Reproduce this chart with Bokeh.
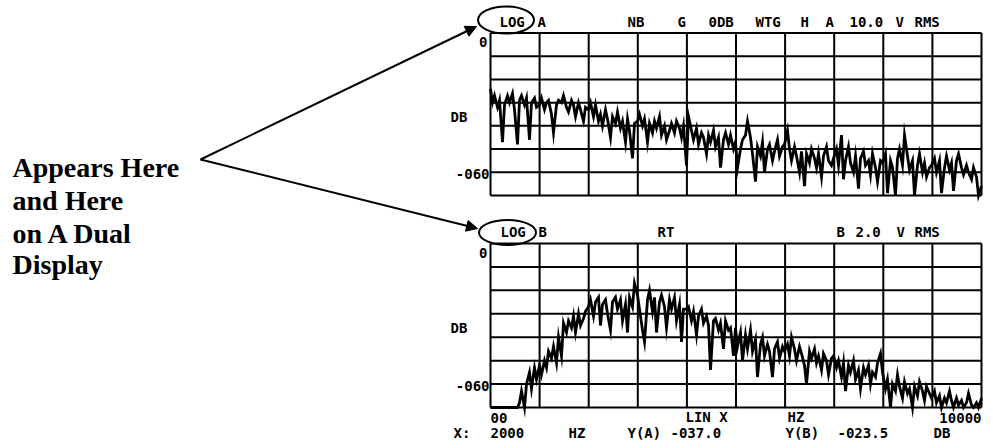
import numpy as np
from bokeh.plotting import figure
from bokeh.models import Range1d, Arrow, NormalHead
from bokeh.core.properties import value
from bokeh.embed import file_html
from bokeh.resources import INLINE

# ---------------- data ----------------
freq_ticks = [0, 1000, 2000, 3000, 4000, 5000, 6000, 7000, 8000, 9000, 10000]
db_ticks = [0, -10, -20, -30, -40, -50, -60, -70]
bin_hz = 50
n_bins = 201
freqs = np.arange(n_bins) * bin_hz

trace_a = [
    -24, -30, -27, -32, -29, -47, -31, -27, -30, -26, -33, -48, -29, -27, -31, -28, -46, -30, -28, -32,
    -31, -28, -33, -30, -29, -35, -43, -31, -29, -30, -27, -32, -34, -29, -31, -36, -30, -33, -38, -32,
    -33, -30, -36, -31, -38, -35, -40, -33, -37, -45, -36, -39, -34, -41, -38, -47, -37, -42, -54, -39,
    -38, -35, -40, -37, -47, -39, -43, -38, -41, -36, -44, -40, -46, -42, -39, -43, -38, -41, -45, -40,
    -57, -36, -42, -46, -41, -48, -43, -45, -52, -44, -47, -42, -49, -45, -58, -46, -43, -48, -44, -50,
    -47, -58, -50, -46, -44, -38, -45, -52, -64, -49, -53, -47, -60, -50, -48, -55, -51, -46, -53, -49,
    -48, -42, -50, -55, -49, -53, -60, -51, -66, -52, -56, -50, -54, -58, -52, -62, -53, -49, -55, -57,
    -54, -50, -57, -44, -63, -55, -49, -56, -60, -53, -67, -54, -51, -57, -55, -61, -52, -58, -64, -55,
    -56, -52, -69, -55, -58, -70, -54, -50, -57, -44, -53, -59, -55, -70, -57, -52, -60, -56, -62, -58,
    -57, -54, -60, -55, -69, -58, -53, -59, -56, -68, -55, -52, -58, -61, -57, -60, -63, -58, -62, -70, -66,
]

trace_b = [
    -70, -70, -70, -70, -70, -70, -70, -70, -70, -70, -70, -70, -68, -63, -70, -60, -55, -62, -53, -58,
    -52, -56, -50, -53, -46, -49, -44, -51, -40, -48, -34, -38, -33, -36, -31, -38, -30, -35, -32, -29,
    -27, -24, -31, -25, -23, -35, -26, -24, -30, -37, -25, -23, -28, -24, -33, -26, -38, -23, -27, -17,
    -22, -28, -37, -42, -24, -20, -29, -23, -38, -25, -22, -27, -36, -24, -28, -23, -33, -26, -42, -28,
    -28, -27, -33, -29, -39, -31, -28, -34, -31, -35, -54, -33, -32, -37, -34, -45, -33, -37, -36, -48,
    -36, -44, -38, -50, -39, -45, -37, -46, -41, -57, -43, -40, -48, -43, -46, -57, -45, -42, -49, -44,
    -46, -43, -48, -40, -45, -50, -44, -47, -52, -60, -46, -49, -45, -51, -48, -54, -47, -50, -56, -49,
    -48, -53, -50, -57, -51, -63, -52, -55, -50, -58, -54, -62, -53, -56, -52, -60, -55, -57, -51, -47,
    -55, -62, -58, -70, -60, -63, -56, -61, -66, -59, -64, -62, -70, -61, -65, -59, -63, -67, -61, -64,
    -66, -63, -68, -65, -70, -66, -68, -63, -67, -70, -66, -69, -67, -70, -68, -64, -69, -70, -68, -70, -66,
]

y_tick_labels = ["0", "DB", "-060"]
x_tick_labels = ["00", "10000"]

header_a = ["LOG", "A", "NB", "G", "0DB", "WTG", "H", "A", "10.0", "V", "RMS"]
header_b = ["LOG", "B", "RT", "B", "2.0", "V", "RMS"]
footer_1 = ["LIN X", "HZ"]
footer_2 = ["X:", "2000", "HZ", "Y(A)", "-037.0", "Y(B)", "-023.5", "DB"]
caption = ["Appears Here", "and Here", "on A Dual", "Display"]

# ---------------- layout ----------------
W, H = 990, 446
p = figure(width=W, height=H, x_range=Range1d(0, W), y_range=Range1d(H, 0),
           output_backend="svg", toolbar_location=None, x_axis_type=None, y_axis_type=None,
           min_border=0, outline_line_color=None, background_fill_color="white",
           border_fill_color="white")
p.grid.visible = False

MONO = value("DejaVu Sans Mono")
FS = "14px"
FX0, FX1 = 490, 981


def panel(y_top, y_bot, trace):
    sub = p.subplot(x_source=Range1d(0, 10000), y_source=Range1d(-70, 0),
                    x_target=Range1d(FX0, FX1), y_target=Range1d(y_bot, y_top))
    sub.multi_line(xs=[[f, f] for f in freq_ticks], ys=[[db_ticks[-1], db_ticks[0]]] * len(freq_ticks),
                   line_color="black", line_width=2)
    sub.multi_line(xs=[[freq_ticks[0], freq_ticks[-1]]] * len(db_ticks), ys=[[d, d] for d in db_ticks],
                   line_color="black", line_width=2)
    sub.line(freqs, trace, line_color="black", line_width=2.8, line_join="miter")
    # y labels
    sub.text(x=[0], y=[0], text=[y_tick_labels[0]], x_offset=-3, y_offset=9,
             text_align="right", text_baseline="middle", text_font=MONO,
             text_font_style="bold", text_font_size=FS, text_color="black")
    sub.text(x=[0], y=[-36], text=[y_tick_labels[1]], x_offset=-40, y_offset=0,
             text_align="left", text_baseline="middle", text_font=MONO,
             text_font_style="bold", text_font_size=FS, text_color="black")
    sub.text(x=[0], y=[-60], text=[y_tick_labels[2]], x_offset=-1, y_offset=2,
             text_align="right", text_baseline="middle", text_font=MONO,
             text_font_style="bold", text_font_size=FS, text_color="black")
    return sub


sub_a = panel(32.5, 195, trace_a)
sub_b = panel(243, 407, trace_b)

# x labels under lower panel
sub_b.text(x=[0], y=[-70], text=[x_tick_labels[0]], y_offset=10, text_align="left",
           text_baseline="middle", text_font=MONO, text_font_style="bold", text_font_size=FS)
sub_b.text(x=[10000], y=[-70], text=[x_tick_labels[1]], y_offset=10, text_align="right",
           text_baseline="middle", text_font=MONO, text_font_style="bold", text_font_size=FS)

# header rows
p.text(x=[499, 537, 627, 677, 708, 755, 800, 825, 849, 895, 914], y=[21] * len(header_a),
       text=header_a, text_align="left", text_baseline="middle", text_font=MONO,
       text_font_style="bold", text_font_size=FS, text_color="black")
p.text(x=[500, 538, 657, 836, 855, 896, 914], y=[231] * len(header_b),
       text=header_b, text_align="left", text_baseline="middle", text_font=MONO,
       text_font_style="bold", text_font_size=FS, text_color="black")

# footer rows
p.text(x=[685, 787], y=[416, 416], text=footer_1, text_align="left", text_baseline="middle",
       text_font=MONO, text_font_style="bold", text_font_size=FS)
p.text(x=[453, 490, 568, 627, 670, 785, 837, 933], y=[432] * len(footer_2), text=footer_2,
       text_align="left", text_baseline="middle", text_font=MONO, text_font_style="bold",
       text_font_size=FS)

# ellipses around LOG
p.ellipse(x=[505.5, 507], y=[19.5, 232], width=[56, 57], height=[27, 25],
          fill_color=None, line_color="black", line_width=2)

# arrows
for (xe, ye) in [(476, 26), (477, 228)]:
    p.add_layout(Arrow(end=NormalHead(size=11, fill_color="black", line_color="black"),
                       x_start=200, y_start=159, x_end=xe, y_end=ye,
                       line_color="black", line_width=2))

# caption
p.text(x=[12] * 4, y=[167, 200, 233, 264], text=caption, text_align="left",
       text_baseline="alphabetic", text_font=value("Liberation Serif"), text_font_style="bold",
       text_font_size="28px", text_color="black")

open("out.html", "w").write(file_html(p, INLINE))
